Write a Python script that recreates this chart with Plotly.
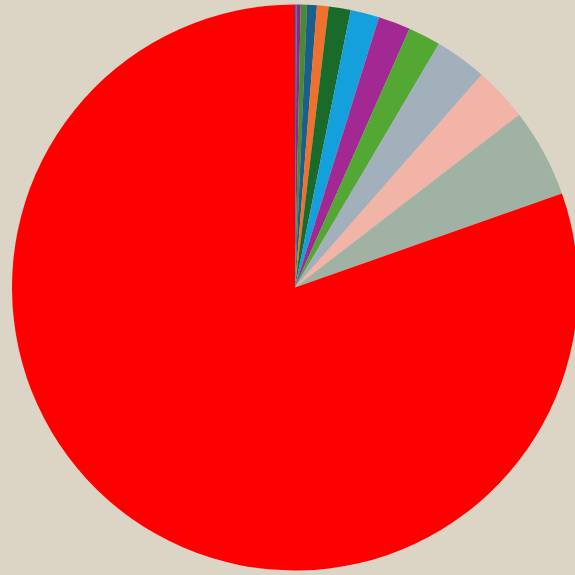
import plotly.graph_objects as go

# listed clockwise from 12 o'clock
labels = ["M", "L", "K", "J", "I", "H", "G", "F", "E", "D", "C", "B", "A"]
values = [0.35, 0.8, 1.3, 2.0, 2.4, 4.5, 5.9, 6.6, 6.7, 10.7, 11.1, 18.2, 289.2]
colors = ["#1e78b4", "#8c2a8c", "#4a8a30", "#1a5f8c", "#f07030", "#1a6b2a", "#14a0dc",
          "#a22894", "#52a832", "#a2b0bc", "#f2b4a6", "#a0b2a3", "#ff0000"]

fig = go.Figure(go.Pie(
    labels=labels,
    values=values,
    sort=False,
    direction="clockwise",
    rotation=0,
    textinfo="none",
    hoverinfo="label+value+percent",
    marker=dict(colors=colors, line=dict(width=0)),
))

fig.update_layout(
    width=578, height=575,
    margin=dict(l=12, r=0, t=4, b=4),
    showlegend=False,
    paper_bgcolor="#dcd4c5",
    plot_bgcolor="#dcd4c5",
)

fig.write_html(
    "out.html",
    config={"displayModeBar": False},
    post_script="document.body.style.margin='0';document.body.style.overflow='hidden';document.body.style.background='#dcd4c5';",
)
